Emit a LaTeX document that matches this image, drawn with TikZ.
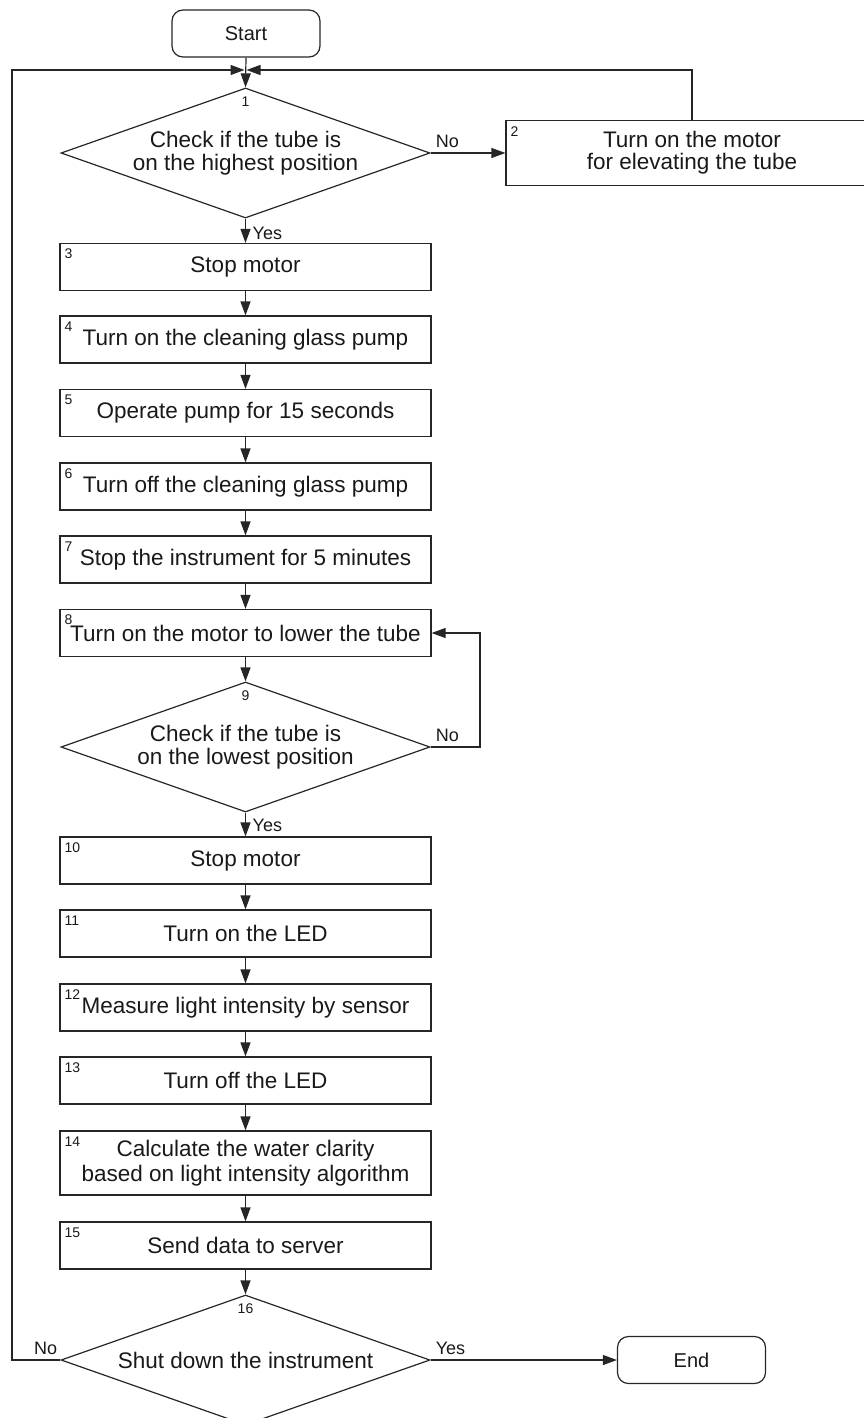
\documentclass[tikz,border=0pt]{standalone}
\usepackage{fontspec}
\setmainfont{Liberation Sans}
\usetikzlibrary{shapes.geometric,arrows.meta}
\tikzset{
  base/.style={draw=black!85, line width=1.2pt, text=black!90},
  procbox/.style={base, rectangle, minimum width=371pt, minimum height=47pt, inner sep=0pt, font=\fontsize{22.5}{25}\selectfont, align=center},
  termbox/.style={base, rectangle, rounded corners=11pt, minimum width=148pt, minimum height=47pt, inner sep=0pt, font=\fontsize{20}{22}\selectfont},
  decbox/.style={base, diamond, minimum width=369pt, minimum height=130pt, inner sep=0pt, aspect=2.84},
  dectext/.style={font=\fontsize{22.5}{23}\selectfont, align=center, inner sep=0pt, text=black!90},
  num/.style={font=\fontsize{14}{14}\selectfont, inner sep=0pt, text=black!90},
  lab/.style={font=\fontsize{18}{18}\selectfont, inner sep=0pt, text=black!90},
  flow/.style={draw=black!85, line width=1.2pt, -{Triangle[length=14pt,width=10pt]}},
  plain/.style={draw=black!85, line width=1.2pt},
}
\begin{document}
\begin{tikzpicture}[x=1pt,y=1pt]
\useasboundingbox (0,0) rectangle (864,-1418);

% terminals
\node[termbox] (start) at (246,-33.5) {Start};
\node[termbox] (end) at (691.5,-1360) {End};

% decision 1
\node[decbox] (d1) at (245.5,-153) {};
\node[dectext] (t1) at (d1.center) {Check if the tube is\\on the highest position};
\node[num, anchor=north] (n1) at ([yshift=-9pt]d1.north) {1};

% box 2
\node[procbox, minimum width=372pt, minimum height=65pt, font=\fontsize{22.5}{22}\selectfont] (b2) at (692,-153) {Turn on the motor\\for elevating the tube};
\node[num, anchor=north west] (n2) at ([shift={(5,-7)}]b2.north west) {2};

% main column
\node[procbox] (b3) at (245.5,-267) {Stop motor};
\node[procbox] (b4) at (245.5,-339.5) {Turn on the cleaning glass pump};
\node[procbox] (b5) at (245.5,-413) {Operate pump for 15 seconds};
\node[procbox] (b6) at (245.5,-486.5) {Turn off the cleaning glass pump};
\node[procbox] (b7) at (245.5,-559.5) {Stop the instrument for 5 minutes};
\node[procbox] (b8) at (245.5,-633) {Turn on the motor to lower the tube};

\node[decbox] (d9) at (245.5,-747) {};
\node[dectext] (t9) at (d9.center) {Check if the tube is\\on the lowest position};
\node[num, anchor=north] (n9) at ([yshift=-9pt]d9.north) {9};

\node[procbox] (b10) at (245.5,-860.5) {Stop motor};
\node[procbox] (b11) at (245.5,-933.5) {Turn on the LED};
\node[procbox] (b12) at (245.5,-1007.5) {Measure light intensity by sensor};
\node[procbox] (b13) at (245.5,-1080.5) {Turn off the LED};
\node[procbox, minimum height=64pt] (b14) at (245.5,-1163) {Calculate the water clarity\\based on light intensity algorithm};
\node[procbox] (b15) at (245.5,-1245.5) {Send data to server};

\node[decbox] (d16) at (245.5,-1360) {};
\node[dectext] (t16) at (d16.center) {Shut down the instrument};
\node[num, anchor=north] (n16) at ([yshift=-9pt]d16.north) {16};

% box numbers
\foreach \b/\n in {b3/3,b4/4,b5/5,b6/6,b7/7,b8/8,b10/10,b11/11,b12/12,b13/13,b14/14,b15/15}{
  \node[num, anchor=north west] (n\n) at ([shift={(5,-6)}]\b.north west) {\n};
}

% junction
\coordinate (j) at (245.5,-70);
\coordinate (lc1) at (12,-70);
\coordinate (lc2) at (12,-1360);
\coordinate (rc1) at (692,-70);
\coordinate (lp1) at (480,-747);
\coordinate (lp2) at (480,-633);

% connectors
\draw[flow] (start.south) -- (d1.north);
\draw[flow] (d1.east) -- (b2.west);
\draw[flow] (b2.north) -- (rc1) -- ([xshift=1pt]j);
\draw[flow] (d16.west) -- (lc2) -- (lc1) -- ([xshift=-1pt]j);
\draw[flow] (d1.south) -- (b3.north);
\draw[flow] (b3.south) -- (b4.north);
\draw[flow] (b4.south) -- (b5.north);
\draw[flow] (b5.south) -- (b6.north);
\draw[flow] (b6.south) -- (b7.north);
\draw[flow] (b7.south) -- (b8.north);
\draw[flow] (b8.south) -- (d9.north);
\draw[flow] (d9.east) -- (lp1) -- (lp2) -- (b8.east);
\draw[flow] (d9.south) -- (b10.north);
\draw[flow] (b10.south) -- (b11.north);
\draw[flow] (b11.south) -- (b12.north);
\draw[flow] (b12.south) -- (b13.north);
\draw[flow] (b13.south) -- (b14.north);
\draw[flow] (b14.south) -- (b15.north);
\draw[flow] (b15.south) -- (d16.north);
\draw[flow] (d16.east) -- (end.west);

% branch labels
\node[lab, anchor=south west] (no1) at ([shift={(5,5)}]d1.east) {No};
\node[lab, anchor=north west] (yes1) at ([shift={(7,-8)}]d1.south) {Yes};
\node[lab, anchor=south west] (no9) at ([shift={(5,5)}]d9.east) {No};
\node[lab, anchor=north west] (yes9) at ([shift={(7,-6)}]d9.south) {Yes};
\node[lab, anchor=south east] (no16) at ([shift={(-3,5)}]d16.west) {No};
\node[lab, anchor=south west] (yes16) at ([shift={(5,5)}]d16.east) {Yes};
\end{tikzpicture}
\end{document}
